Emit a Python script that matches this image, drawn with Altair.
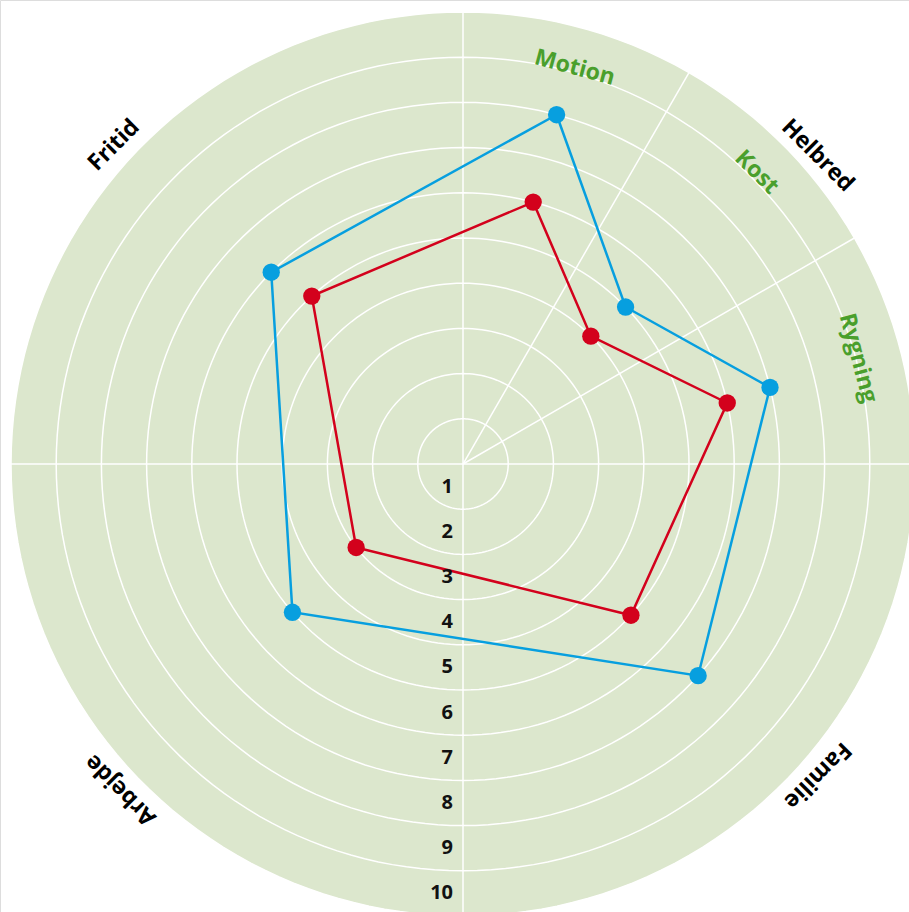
import altair as alt
import pandas as pd

# ---- data ----
categories = ["Motion", "Kost", "Rygning", "Familie", "Arbejde", "Fritid"]
blue_values = [8, 5, 7, 7, 5, 6]
red_values = [6, 4, 6, 5, 3, 5]
blue_angles = [15, 46, 76, 132, 229, 315]
red_angles = [15, 45, 77, 132, 232, 318]

ring_levels = [1, 2, 3, 4, 5, 6, 7, 8, 9, 10]
spoke_angles = [0, 30, 60, 90, 180, 270]

inner_labels = ["Motion", "Kost", "Rygning"]
outer_labels = ["Helbred", "Familie", "Arbejde", "Fritid"]

# ---- layout / style ----
W, H = 909, 912
CX, CY = 463, 464
PX = 45.2  # pixels per unit
xdom = [-CX / PX, (W - CX) / PX]
ydom = [-(H - CY) / PX, CY / PX]

GREEN_BG = "#dce7cd"
BLUE = "#079fdf"
RED = "#d3011c"
GREEN_TXT = "#4a9f2c"

inner_pos_angle = [15.75, 45.2, 75.0]
inner_pos_radius = [9.11, 9.16, 9.05]
inner_rotation = [15, 45, 75]
outer_pos_angle = [49.0, 131.3, 226.4, 312.4]
outer_pos_radius = [10.4, 10.44, 10.46, 10.46]
outer_rotation = [45, 135, 225, 315]

xs = alt.Scale(domain=xdom, nice=False, zero=False)
ys = alt.Scale(domain=ydom, nice=False, zero=False)
X = lambda f: alt.X(f, type="quantitative", scale=xs, axis=None)
Y = lambda f: alt.Y(f, type="quantitative", scale=ys, axis=None)

polar = dict(
    px="datum.r * sin(datum.a * PI / 180)",
    py="datum.r * cos(datum.a * PI / 180)",
)

# disc
disc = alt.Chart(pd.DataFrame({"r": [0], "a": [0]})).transform_calculate(**polar).mark_point(
    shape="circle", filled=True, size=(2 * 10 * PX) ** 2, color=GREEN_BG, opacity=1, strokeWidth=0
).encode(x=X("px"), y=Y("py"))

# rings
ring_rows = []
for lvl in ring_levels:
    for a in range(0, 361, 2):
        ring_rows.append({"ring": lvl, "r": lvl, "a": a})
rings = alt.Chart(pd.DataFrame(ring_rows)).transform_calculate(**polar).mark_line(
    color="white", strokeWidth=1.5
).encode(x=X("px"), y=Y("py"), detail="ring:N", order="a:Q")

# spokes
spoke_rows = []
for a in spoke_angles:
    spoke_rows.append({"spoke": a, "r": 0, "a": a})
    spoke_rows.append({"spoke": a, "r": 10, "a": a})
spokes = alt.Chart(pd.DataFrame(spoke_rows)).transform_calculate(**polar).mark_line(
    color="white", strokeWidth=1.5
).encode(x=X("px"), y=Y("py"), detail="spoke:N", order="r:Q")

# series
def series_df(vals, angs):
    rows = []
    for i, (c, v, a) in enumerate(zip(categories, vals, angs)):
        rows.append({"cat": c, "r": v, "a": a, "i": i})
    rows.append({"cat": categories[0], "r": vals[0], "a": angs[0], "i": len(vals)})
    return pd.DataFrame(rows)

def series_layers(df, col):
    ln = alt.Chart(df).transform_calculate(**polar).mark_line(strokeWidth=2.5, color=col).encode(
        x=X("px"), y=Y("py"), order="i:Q"
    )
    pt = alt.Chart(df).transform_filter("datum.i < 6").transform_calculate(**polar).mark_point(
        shape="circle", filled=True, size=300, opacity=1, color=col
    ).encode(x=X("px"), y=Y("py"))
    return [ln, pt]

blue_layers = series_layers(series_df(blue_values, blue_angles), BLUE)
red_layers = series_layers(series_df(red_values, red_angles), RED)

# ring numbers
num_df = pd.DataFrame({"lvl": ring_levels, "r": [v - 0.5 for v in ring_levels], "a": [180] * len(ring_levels)})
numbers = alt.Chart(num_df).transform_calculate(**polar).mark_text(
    font="Open Sans", fontWeight="bold", fontSize=20, color="#111111", align="right", baseline="middle", dx=-10
).encode(x=X("px"), y=Y("py"), text="lvl:N")

# category labels
def label_layer(texts, angs, rads, rots, col):
    df = pd.DataFrame({"text": texts, "a": angs, "r": rads, "rot": rots})
    return alt.Chart(df).transform_calculate(**polar).mark_text(
        font="Open Sans", fontWeight="bold", fontSize=23, align="center", baseline="middle", color=col
    ).encode(x=X("px"), y=Y("py"), text="text:N", angle=alt.Angle("rot:Q", scale=None))

inner = label_layer(inner_labels, inner_pos_angle, inner_pos_radius, inner_rotation, GREEN_TXT)
outer = label_layer(outer_labels, outer_pos_angle, outer_pos_radius, outer_rotation, "#000000")

chart = alt.layer(disc, rings, spokes, *blue_layers, *red_layers, numbers, inner, outer).properties(
    width=W, height=H, autosize=alt.AutoSizeParams(type="none"), padding=0
).configure_view(stroke=None).configure(background="white")

chart.save("out.html", embed_options={"renderer": "svg", "actions": False})
